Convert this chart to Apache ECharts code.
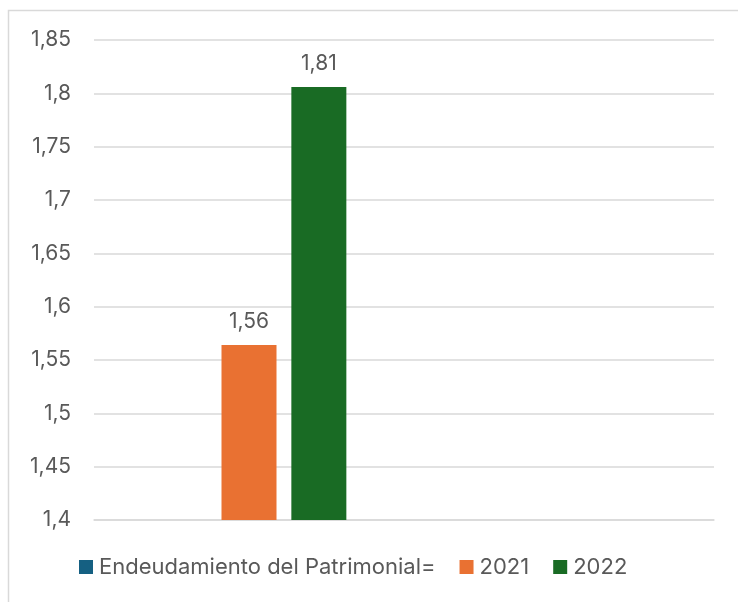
<!DOCTYPE html>
<html>
<head>
<meta charset="utf-8">
<script src="https://cdn.jsdelivr.net/npm/echarts@6/dist/echarts.min.js"></script>
<style>
  html, body { margin: 0; padding: 0; background: #fff; }
  #container { width: 738px; height: 602px; }
</style>
</head>
<body>
<div id="container"></div>
<script>
let chart = echarts.init(document.getElementById('container'));

// data
var categories = ['', ''];
var seriesNames = ['Endeudamiento del Patrimonial=', '2021', '2022'];
var endeudamiento = [null, null];
var values2021 = [1.564, null];
var values2022 = [1.806, null];
var colors = ['#156082', '#E97132', '#196B24'];

var fontFamily = 'Inter, "Noto Sans", sans-serif';
var textColor = '#595959';
var fontSize = 21;

function comma(v, digits) {
    let s = digits == null ? String(Number(v.toFixed(2))) : v.toFixed(digits);
    return s.replace('.', ',');
}

var barLabel = {
    show: true,
    position: 'top',
    distance: 13,
    color: textColor,
    fontSize: fontSize,
    fontFamily: fontFamily,
    formatter: function (p) {
        return comma(p.value, 2);
    }
};

var option = {
    animation: false,
    color: colors,
    graphic: [{
        type: 'rect',
        shape: { x: 8.5, y: 10.5, width: 760, height: 620 },
        style: { fill: 'none', stroke: '#d9d9d9', lineWidth: 1.5 },
        silent: true
    }],
    legend: {
        left: 74,
        top: 551,
        icon: 'rect',
        itemWidth: 14,
        itemHeight: 14,
        itemGap: 24,
        selectedMode: false,
        textStyle: { color: textColor, fontSize: 22, fontFamily: fontFamily, padding: [0, 0, 0, 1] },
        data: seriesNames
    },
    grid: {
        left: 94,
        right: 24,
        top: 40,
        bottom: 82
    },
    xAxis: {
        type: 'category',
        data: categories,
        axisLine: { show: true, lineStyle: { color: '#d9d9d9', width: 1.5 } },
        axisTick: { show: false },
        axisLabel: { show: false }
    },
    yAxis: {
        type: 'value',
        min: 1.4,
        max: 1.85,
        interval: 0.05,
        axisLine: { show: false },
        axisTick: { show: false },
        splitLine: { lineStyle: { color: '#d9d9d9', width: 1.5 } },
        axisLabel: {
            margin: 23,
            color: textColor,
            fontSize: fontSize,
            fontFamily: fontFamily,
            formatter: function (v) { return comma(v); }
        }
    },
    series: [
        {
            name: seriesNames[0],
            type: 'bar',
            barWidth: 55,
            barGap: '27%',
            data: endeudamiento
        },
        {
            name: seriesNames[1],
            type: 'bar',
            barWidth: 55,
            barGap: '27%',
            label: barLabel,
            data: values2021
        },
        {
            name: seriesNames[2],
            type: 'bar',
            barWidth: 55,
            barGap: '27%',
            label: barLabel,
            data: values2022
        }
    ]
};

chart.setOption(option);
</script>
</body>
</html>
